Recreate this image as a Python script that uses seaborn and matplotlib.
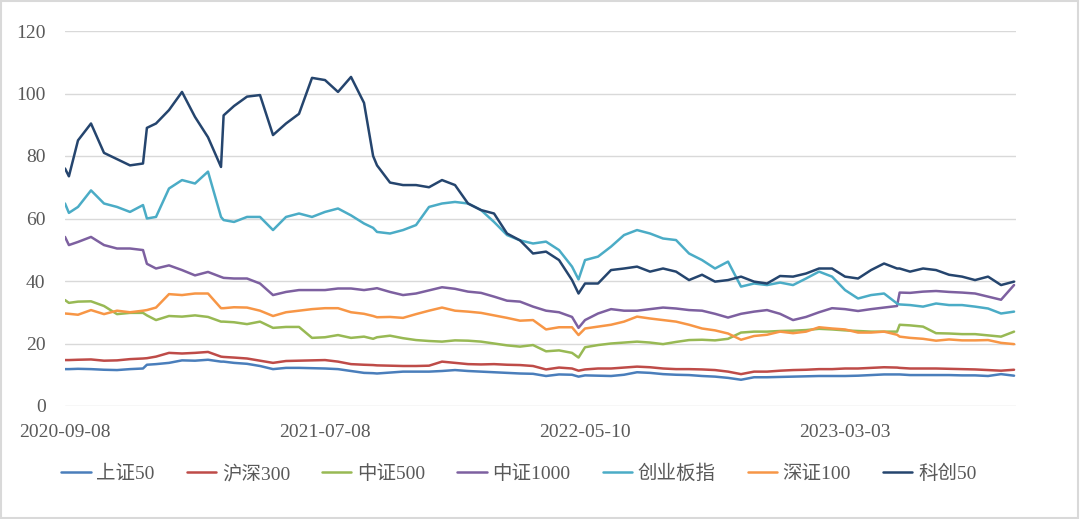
import pandas as pd
import matplotlib
matplotlib.use('Agg')
import matplotlib.pyplot as plt
import matplotlib.patches as patches
import seaborn as sns

# trading-day index (0 = 2020-09-08)
day = [0, 3, 10, 20, 30, 40, 50, 60, 63, 70, 80, 90, 100, 110, 120, 122, 130, 140, 150,
       160, 170, 180, 190, 200, 210, 220, 230, 237, 240, 250, 260, 270, 280, 290, 300,
       310, 320, 330, 340, 350, 360, 370, 380, 390, 395, 400, 410, 420, 430, 440, 450,
       460, 470, 480, 490, 500, 510, 520, 530, 540, 550, 560, 570, 580, 590, 600, 610,
       620, 630, 640, 642, 650, 660, 670, 680, 690, 700, 710, 720, 730]

tick_days = [0, 200, 400, 600]
tick_labels = ['2020-09-08', '2021-07-08', '2022-05-10', '2023-03-03']

sz50 = [11.8, 11.8, 11.9, 11.8, 11.6, 11.5, 11.8, 12.0, 13.2, 13.4, 13.8, 14.6, 14.5, 14.8,
        14.2, 14.2, 13.8, 13.5, 12.8, 11.8, 12.2, 12.2, 12.1, 12.0, 11.8, 11.2, 10.6, 10.5,
        10.4, 10.7, 11.0, 11.0, 11.0, 11.2, 11.5, 11.2, 11.0, 10.8, 10.6, 10.4, 10.3, 9.6,
        10.1, 10.0, 9.4, 9.8, 9.7, 9.6, 10.0, 10.8, 10.6, 10.2, 10.0, 9.9, 9.6, 9.4, 9.0,
        8.4, 9.2, 9.2, 9.3, 9.4, 9.5, 9.6, 9.6, 9.6, 9.7, 9.9, 10.1, 10.1, 10.1, 9.9, 9.9,
        9.9, 9.9, 9.8, 9.8, 9.6, 10.2, 9.7]
hs300 = [14.7, 14.7, 14.8, 14.9, 14.5, 14.6, 15.0, 15.2, 15.3, 15.8, 17.0, 16.8, 17.0, 17.3,
         15.8, 15.7, 15.5, 15.2, 14.5, 13.8, 14.4, 14.5, 14.6, 14.7, 14.2, 13.4, 13.2, 13.1,
         13.0, 12.9, 12.8, 12.8, 12.9, 14.2, 13.8, 13.4, 13.3, 13.4, 13.2, 13.1, 12.8, 11.7,
         12.3, 12.0, 11.3, 11.7, 12.0, 12.0, 12.3, 12.6, 12.4, 12.0, 11.8, 11.8, 11.7, 11.5,
         11.0, 10.2, 11.0, 11.0, 11.3, 11.5, 11.6, 11.8, 11.8, 12.0, 12.0, 12.2, 12.4, 12.3,
         12.2, 12.0, 12.0, 12.0, 11.9, 11.8, 11.7, 11.5, 11.3, 11.6]
zz500 = [33.9, 33.0, 33.4, 33.5, 32.0, 29.4, 29.8, 29.8, 29.0, 27.5, 28.8, 28.6, 29.0, 28.5,
         27.0, 27.0, 26.8, 26.2, 27.0, 25.0, 25.3, 25.3, 21.8, 22.0, 22.7, 21.8, 22.2, 21.5,
         22.0, 22.5, 21.7, 21.1, 20.8, 20.6, 21.0, 20.9, 20.6, 20.0, 19.4, 19.0, 19.5, 17.5,
         17.8, 17.0, 15.5, 18.8, 19.5, 20.0, 20.3, 20.6, 20.3, 19.8, 20.5, 21.1, 21.2, 21.0,
         21.5, 23.5, 23.8, 23.8, 24.0, 24.1, 24.3, 24.7, 24.5, 24.2, 24.0, 23.8, 23.8, 23.8,
         26.0, 25.8, 25.4, 23.3, 23.2, 23.0, 23.0, 22.6, 22.2, 23.8]
zz1000 = [54.1, 51.5, 52.5, 54.1, 51.5, 50.4, 50.4, 49.9, 45.5, 44.0, 45.0, 43.5, 41.8, 42.9,
          41.3, 41.0, 40.8, 40.8, 39.2, 35.5, 36.5, 37.1, 37.1, 37.1, 37.6, 37.6, 37.1, 37.5,
          37.7, 36.5, 35.5, 36.0, 37.0, 38.0, 37.5, 36.6, 36.2, 35.0, 33.7, 33.4, 31.8, 30.5,
          30.0, 28.5, 25.0, 27.5, 29.6, 31.0, 30.5, 30.5, 31.0, 31.5, 31.2, 30.7, 30.5, 29.5,
          28.3, 29.5, 30.2, 30.7, 29.5, 27.5, 28.5, 30.0, 31.3, 31.0, 30.4, 31.0, 31.5, 32.0,
          36.3, 36.2, 36.6, 36.8, 36.5, 36.3, 36.0, 35.0, 34.0, 38.7]
cybz = [64.8, 61.8, 63.7, 69.0, 64.8, 63.7, 62.1, 64.3, 60.0, 60.5, 69.6, 72.3, 71.2, 75.0,
        60.5, 59.5, 58.9, 60.5, 60.5, 56.3, 60.5, 61.6, 60.5, 62.1, 63.2, 61.0, 58.4, 57.0,
        55.7, 55.2, 56.3, 57.9, 63.7, 64.8, 65.3, 64.8, 62.7, 58.9, 54.7, 53.0, 52.0, 52.6,
        49.9, 44.6, 40.5, 46.7, 47.8, 51.0, 54.7, 56.3, 55.2, 53.6, 53.1, 48.8, 46.7, 44.0,
        46.2, 38.2, 39.2, 38.7, 39.5, 38.7, 40.8, 43.0, 41.4, 37.1, 34.4, 35.5, 36.0, 32.8,
        32.5, 32.3, 31.8, 32.8, 32.3, 32.3, 31.8, 31.2, 29.6, 30.2]
sz100 = [29.6, 29.5, 29.2, 30.7, 29.4, 30.5, 30.0, 30.5, 30.7, 31.5, 35.8, 35.5, 36.0, 36.0,
         31.3, 31.3, 31.6, 31.5, 30.5, 28.8, 30.0, 30.5, 31.0, 31.3, 31.3, 30.0, 29.5, 28.8,
         28.4, 28.5, 28.2, 29.4, 30.5, 31.5, 30.5, 30.2, 29.8, 29.0, 28.2, 27.3, 27.5, 24.5,
         25.2, 25.2, 22.7, 24.8, 25.4, 26.0, 27.0, 28.6, 28.0, 27.5, 27.0, 26.0, 24.8, 24.2,
         23.2, 21.2, 22.4, 22.8, 23.8, 23.3, 23.8, 25.2, 24.8, 24.5, 23.5, 23.5, 23.8, 22.8,
         22.2, 21.8, 21.5, 20.9, 21.3, 21.0, 21.0, 21.1, 20.2, 19.8]
kc50 = [76.0, 73.5, 85.0, 90.4, 81.0, 79.0, 77.0, 77.6, 89.0, 90.4, 94.7, 100.5, 92.5, 86.0,
        76.5, 93.0, 96.0, 99.0, 99.5, 86.7, 90.4, 93.5, 105.0, 104.3, 100.5, 105.3, 97.0, 80.0,
        77.0, 71.5, 70.7, 70.7, 70.0, 72.3, 70.7, 64.8, 62.7, 61.6, 55.2, 53.0, 48.8, 49.4,
        46.7, 40.3, 36.0, 39.2, 39.2, 43.5, 44.0, 44.6, 43.0, 44.0, 43.0, 40.3, 42.0, 39.8,
        40.3, 41.4, 39.8, 39.2, 41.6, 41.4, 42.4, 44.0, 44.0, 41.4, 40.8, 43.5, 45.6, 44.0,
        44.0, 43.0, 44.0, 43.5, 42.0, 41.4, 40.3, 41.4, 38.7, 39.8]

names = ['上证50', '沪深300', '中证500', '中证1000', '创业板指', '深证100', '科创50']
series = [sz50, hs300, zz500, zz1000, cybz, sz100, kc50]
colors = ['#4A7EBB', '#BE4B48', '#98B954', '#7D60A0', '#4BACC6', '#F79646', '#25456E']

df = pd.concat([pd.DataFrame({'day': day, 'value': v, 'index': n}) for n, v in zip(names, series)])

sns.set_style('white')
plt.rcParams['font.family'] = ['Liberation Serif', 'Noto Sans CJK SC']

fig = plt.figure(figsize=(10.8, 5.19), dpi=100)
ax = fig.add_axes([65 / 1080, 1 - 406 / 519, 951 / 1080, 375 / 519])

sns.lineplot(data=df, x='day', y='value', hue='index', hue_order=names,
             palette=colors, linewidth=1.8, ax=ax)

ax.set_xlim(0, 731.5)
ax.set_ylim(0, 120)
ax.set_yticks(range(0, 121, 20))
ax.set_xticks(tick_days)
ax.set_xticklabels(tick_labels)
ax.set_xlabel('')
ax.set_ylabel('')
ax.grid(axis='y', color='#d9d9d9', linewidth=1)
ax.set_axisbelow(True)
for s in ax.spines.values():
    s.set_visible(False)
ax.tick_params(axis='both', length=0, labelsize=14, colors='#595959')
ax.tick_params(axis='x', pad=13)
ax.tick_params(axis='y', pad=14)

handles, labels = ax.get_legend_handles_labels()
ax.legend(handles, labels, loc='center', bbox_to_anchor=(519 / 1080, 1 - 474 / 519),
          bbox_transform=fig.transFigure, ncol=7, frameon=False, fontsize=14,
          handlelength=1.5, handletextpad=0.3, columnspacing=1.65, labelcolor='#595959')

# light border around the whole chart
fig.patches.append(patches.Rectangle((0.001, 0.002), 0.997, 0.996, transform=fig.transFigure,
                                     fill=False, edgecolor='#d9d9d9', linewidth=1.5))

fig.savefig('out.png', dpi=100)
